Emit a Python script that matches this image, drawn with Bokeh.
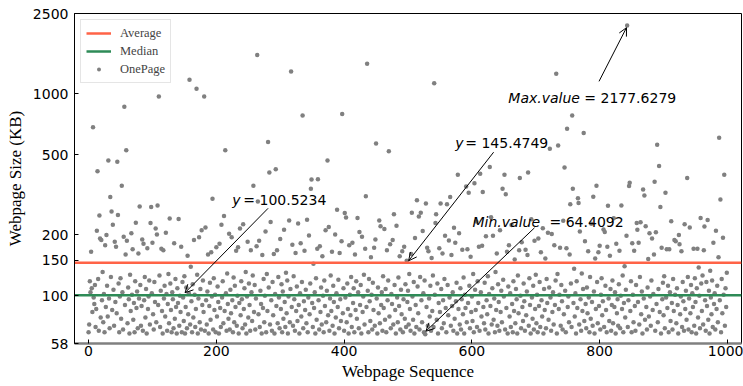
from bokeh.plotting import figure
from bokeh.models import (ColumnDataSource, Arrow, OpenHead, Legend, LegendItem,
                          FixedTicker, PrintfTickFormatter, Range1d)
from bokeh.core.properties import value
from bokeh.embed import file_html
from bokeh.resources import INLINE

# ---------------- data ----------------
# page sizes (KB), index = webpage sequence number
sizes = [
    66, 72, 118, 104, 165, 109, 83, 684, 98, 91, 113, 70, 86, 210, 414, 121, 67, 250, 192, 78,
    189, 95, 131, 74, 102, 66, 178, 88, 200, 112, 79, 467, 97, 69, 308, 124, 261, 85, 225, 107,
    71, 185, 93, 175, 82, 461, 251, 115, 66, 99, 122, 77, 351, 104, 68, 196, 864, 90, 160, 525,
    187, 73, 110, 96, 65, 127, 84, 204, 101, 170, 76, 92, 66, 118, 230, 87, 105, 69, 162, 97,
    277, 113, 71, 89, 190, 67, 181, 95, 124, 78, 108, 65, 172, 86, 99, 119, 72, 229, 275, 103,
    183, 81, 68, 117, 93, 215, 74, 201, 280, 90, 971, 126, 70, 106, 171, 84, 65, 168, 97, 112,
    79, 205, 102, 67, 91, 128, 73, 241, 115, 85, 66, 104, 96, 69, 182, 77, 121, 88, 65, 109,
    92, 240, 71, 100, 83, 175, 66, 117, 98, 75, 125, 65, 88, 110, 69, 158, 81, 103, 1175, 72,
    139, 94, 66, 114, 78, 189, 101, 70, 86, 1061, 127, 65, 97, 195, 74, 108, 68, 211, 90, 119,
    83, 971, 67, 218, 95, 72, 105, 160, 65, 89, 116, 76, 164, 99, 302, 68, 122, 85, 101, 66,
    174, 79, 111, 93, 65, 181, 87, 70, 225, 98, 118, 73, 248, 84, 525, 103, 67, 129, 91, 77,
    203, 68, 107, 82, 195, 95, 66, 123, 74, 112, 88, 167, 71, 100, 174, 65, 92, 215, 80, 118,
    96, 69, 226, 86, 109, 72, 131, 65, 99, 185, 78, 115, 90, 67, 168, 104, 75, 126, 351, 83,
    113, 68, 97, 176, 1556, 293, 81, 187, 70, 106, 91, 65, 159, 87, 121, 74, 100, 208, 66, 128,
    84, 577, 110, 408, 72, 232, 95, 67, 117, 80, 161, 65, 102, 423, 89, 168, 73, 124, 98, 69,
    191, 86, 114, 66, 105, 77, 212, 93, 70, 130, 82, 119, 65, 99, 236, 74, 108, 1292, 88, 179,
    71, 125, 96, 67, 163, 84, 111, 75, 228, 90, 65, 103, 182, 79, 117, 782, 69, 94, 167, 85,
    107, 73, 238, 66, 98, 199, 81, 115, 339, 376, 92, 70, 144, 87, 104, 65, 122, 76, 171, 378,
    95, 68, 176, 83, 110, 72, 157, 100, 66, 119, 89, 211, 74, 106, 467, 80, 219, 67, 97, 126,
    84, 165, 71, 112, 93, 65, 201, 78, 103, 267, 88, 120, 69, 163, 96, 75, 186, 794, 82, 109,
    67, 257, 98, 244, 74, 115, 86, 65, 178, 101, 80, 124, 70, 183, 92, 109, 66, 160, 85, 118,
    77, 243, 104, 69, 207, 90, 113, 65, 196, 83, 99, 127, 72, 171, 311, 88, 1410, 106, 66, 121,
    94, 75, 155, 101, 68, 116, 85, 173, 71, 190, 567, 97, 65, 110, 82, 236, 73, 221, 90, 104,
    67, 125, 87, 214, 76, 108, 66, 168, 95, 119, 519, 79, 180, 69, 102, 91, 189, 72, 253, 113,
    85, 65, 222, 98, 74, 123, 89, 157, 68, 107, 81, 166, 66, 96, 175, 77, 114, 70, 149, 93,
    106, 72, 128, 86, 67, 161, 258, 99, 76, 117, 65, 193, 90, 70, 297, 111, 82, 247, 68, 124,
    258, 95, 74, 209, 103, 66, 119, 64.4092, 286, 88, 173, 71, 166, 97, 79, 112, 67, 154, 84, 126,
    70, 1130, 101, 229, 253, 76, 115, 65, 92, 172, 83, 286, 108, 69, 162, 95, 73, 121, 198, 87,
    66, 284, 113, 80, 188, 98, 308, 71, 159, 89, 104, 67, 217, 77, 183, 94, 116, 65, 397, 86,
    204, 72, 109, 68, 96, 169, 81, 123, 65, 101, 87, 348, 74, 170, 92, 324, 112, 69, 156, 83,
    99, 75, 128, 66, 361, 107, 85, 233, 70, 118, 92, 175, 67, 402, 104, 79, 177, 326, 88, 73,
    116, 68, 197, 95, 81, 125, 65, 102, 434, 89, 245, 72, 109, 198, 76, 97, 66, 131, 85, 162,
    71, 114, 93, 67, 211, 83, 106, 74, 339, 120, 99, 397, 68, 318, 87, 165, 65, 111, 178, 79,
    103, 70, 224, 91, 66, 118, 84, 151, 73, 108, 96, 65, 126, 82, 168, 383, 100, 69, 184, 88,
    75, 115, 94, 67, 169, 80, 105, 159, 408, 71, 122, 90, 65, 239, 98, 77, 112, 68, 187, 86,
    127, 73, 101, 66, 192, 89, 117, 70, 164, 95, 79, 216, 65, 108, 85, 153, 69, 121, 92, 205,
    76, 110, 535, 98, 67, 202, 83, 104, 72, 178, 90, 119, 1259, 65, 128, 555, 86, 101, 173, 71,
    113, 94, 68, 235, 81, 432, 106, 66, 172, 672, 88, 99, 74, 160, 284, 115, 70, 782, 339, 92,
    136, 79, 103, 65, 118, 87, 304, 288, 72, 208, 96, 67, 129, 84, 108, 639, 75, 186, 91, 69,
    110, 82, 166, 98, 66, 124, 77, 227, 93, 71, 309, 105, 65, 153, 86, 351, 117, 73, 164, 89,
    177, 68, 101, 122, 80, 94, 213, 70, 207, 112, 85, 66, 175, 279, 97, 75, 158, 108, 67, 90,
    119, 73, 242, 88, 104, 65, 181, 82, 96, 71, 114, 167, 69, 100, 280, 86, 126, 66, 92, 140,
    78, 107, 198, 2177.6279, 70, 95, 350, 363, 84, 118, 66, 182, 101, 74, 167, 89, 67, 113, 229, 212,
    93, 183, 72, 124, 231, 81, 105, 65, 336, 97, 314, 76, 221, 88, 68, 110, 152, 79, 204, 99,
    71, 119, 192, 85, 102, 160, 367, 67, 206, 91, 560, 74, 108, 439, 83, 275, 65, 173, 96, 116,
    80, 125, 69, 324, 98, 170, 87, 112, 66, 170, 104, 75, 234, 92, 68, 121, 84, 189, 101, 186,
    73, 109, 90, 65, 200, 180, 81, 99, 166, 70, 117, 94, 67, 226, 86, 106, 76, 383, 124, 68,
    97, 218, 82, 113, 66, 103, 88, 171, 71, 122, 93, 65, 109, 171, 78, 138, 100, 69, 243, 115,
    84, 126, 72, 168, 220, 95, 67, 117, 89, 237, 76, 106, 65, 133, 98, 81, 119, 70, 183, 91,
    103, 68, 210, 86, 112, 74, 155, 606, 95, 300, 66, 121, 82, 194, 101, 397, 71, 109, 88, 130,
]
sequence = list(range(len(sizes)))

AVERAGE = 145.4749
MEDIAN = 100.5234

X_LIM = (-22, 1022)
Y_LIM = (58, 2500)
x_ticks = [0, 200, 400, 600, 800, 1000]
y_ticks = [58, 100, 150, 200, 500, 1000, 2500]

# annotation texts (italic part, upright part)
ann_italic = ["y", "y", "Min.value", "Max.value"]
ann_upright = ["= 100.5234", "= 145.4749", "= 64.4092", "= 2177.6279"]
ann_x = [225, 574, 601, 657]
ann_y = [297, 570, 233, 957]
ann_dx = [11, 10, 77, 76]
# arrows: (tail x, tail y) -> (head x, head y)
arr_x0 = [281, 634, 698, 799]
arr_y0 = [271, 514, 217, 1153]
arr_x1 = [151, 501, 528, 842]
arr_y1 = [103.5, 149, 66.7, 2127]

AVG_COLOR = "#ff6347"
MED_COLOR = "#2e8b57"
PT_COLOR = "#808080"

# ---------------- figure ----------------
p = figure(width=743, height=386,
           x_range=Range1d(*X_LIM), y_range=Range1d(*Y_LIM),
           y_axis_type="log", output_backend="svg", toolbar_location=None,
           min_border_left=74, min_border_right=2, min_border_top=13, min_border_bottom=43)
p.background_fill_color = "white"
p.border_fill_color = "white"
p.outline_line_color = "black"
p.outline_line_width = 1
p.outline_line_alpha = 1
p.grid.visible = False

pts = p.scatter(sequence, sizes, size=4.5, color=PT_COLOR, line_color=None)

r_avg = p.line(x=list(X_LIM), y=[AVERAGE, AVERAGE], line_color=AVG_COLOR, line_width=2.5)
r_med = p.line(x=list(X_LIM), y=[MEDIAN, MEDIAN], line_color=MED_COLOR, line_width=2.5)

# annotations
src = ColumnDataSource(dict(x=ann_x, y=ann_y, it=ann_italic, up=ann_upright, dx=ann_dx))
p.text(x="x", y="y", text="it", source=src, text_font=value("DejaVu Sans"),
       text_font_size="14px", text_font_style="italic", text_baseline="alphabetic",
       text_align="left", text_color="black")
p.text(x="x", y="y", text="up", source=src, x_offset="dx", text_font=value("DejaVu Sans"),
       text_font_size="14px", text_baseline="alphabetic", text_align="left", text_color="black")
for a, b, c, d in zip(arr_x0, arr_y0, arr_x1, arr_y1):
    p.add_layout(Arrow(end=OpenHead(size=8, line_width=1, line_color="black"),
                       x_start=a, y_start=b, x_end=c, y_end=d,
                       line_width=1, line_color="black"))

# legend
legend = Legend(items=[LegendItem(label="Average", renderers=[r_avg]),
                       LegendItem(label="Median", renderers=[r_med]),
                       LegendItem(label="OnePage", renderers=[pts])],
                location="top_left", margin=6, padding=5, spacing=2,
                glyph_width=25, glyph_height=10, label_height=16, label_standoff=9,
                label_text_font="Liberation Serif", label_text_font_size="12.5px",
                border_line_color="#cccccc", border_line_width=1,
                background_fill_color="white", background_fill_alpha=0.85)
p.add_layout(legend)

# axes
p.xaxis.ticker = FixedTicker(ticks=x_ticks)
p.yaxis.ticker = FixedTicker(ticks=y_ticks)
p.yaxis.formatter = PrintfTickFormatter(format="%d")
for ax in (p.xaxis[0], p.yaxis[0]):
    ax.major_tick_in = 4
    ax.major_tick_out = 0
    ax.minor_tick_line_color = None
    ax.major_tick_line_color = "black"
    ax.major_label_text_font = "DejaVu Sans"
    ax.major_label_text_font_size = "14px"
    ax.major_label_text_color = "black"
    ax.axis_label_text_font = "Liberation Serif"
    ax.axis_label_text_font_size = "17px"
    ax.axis_label_text_font_style = "normal"
    ax.axis_label_text_color = "black"
p.xaxis.axis_label = "Webpage Sequence"
p.yaxis.axis_label = "Webpage Size (KB)"
p.xaxis.axis_line_color = "#808080"
p.xaxis.axis_line_width = 2.5
p.yaxis.axis_line_color = "black"
p.xaxis.major_label_standoff = 2
p.xaxis.axis_label_standoff = 3
p.yaxis.major_label_standoff = 6
p.yaxis.axis_label_standoff = 5

open("out.html", "w").write(file_html(p, INLINE))
